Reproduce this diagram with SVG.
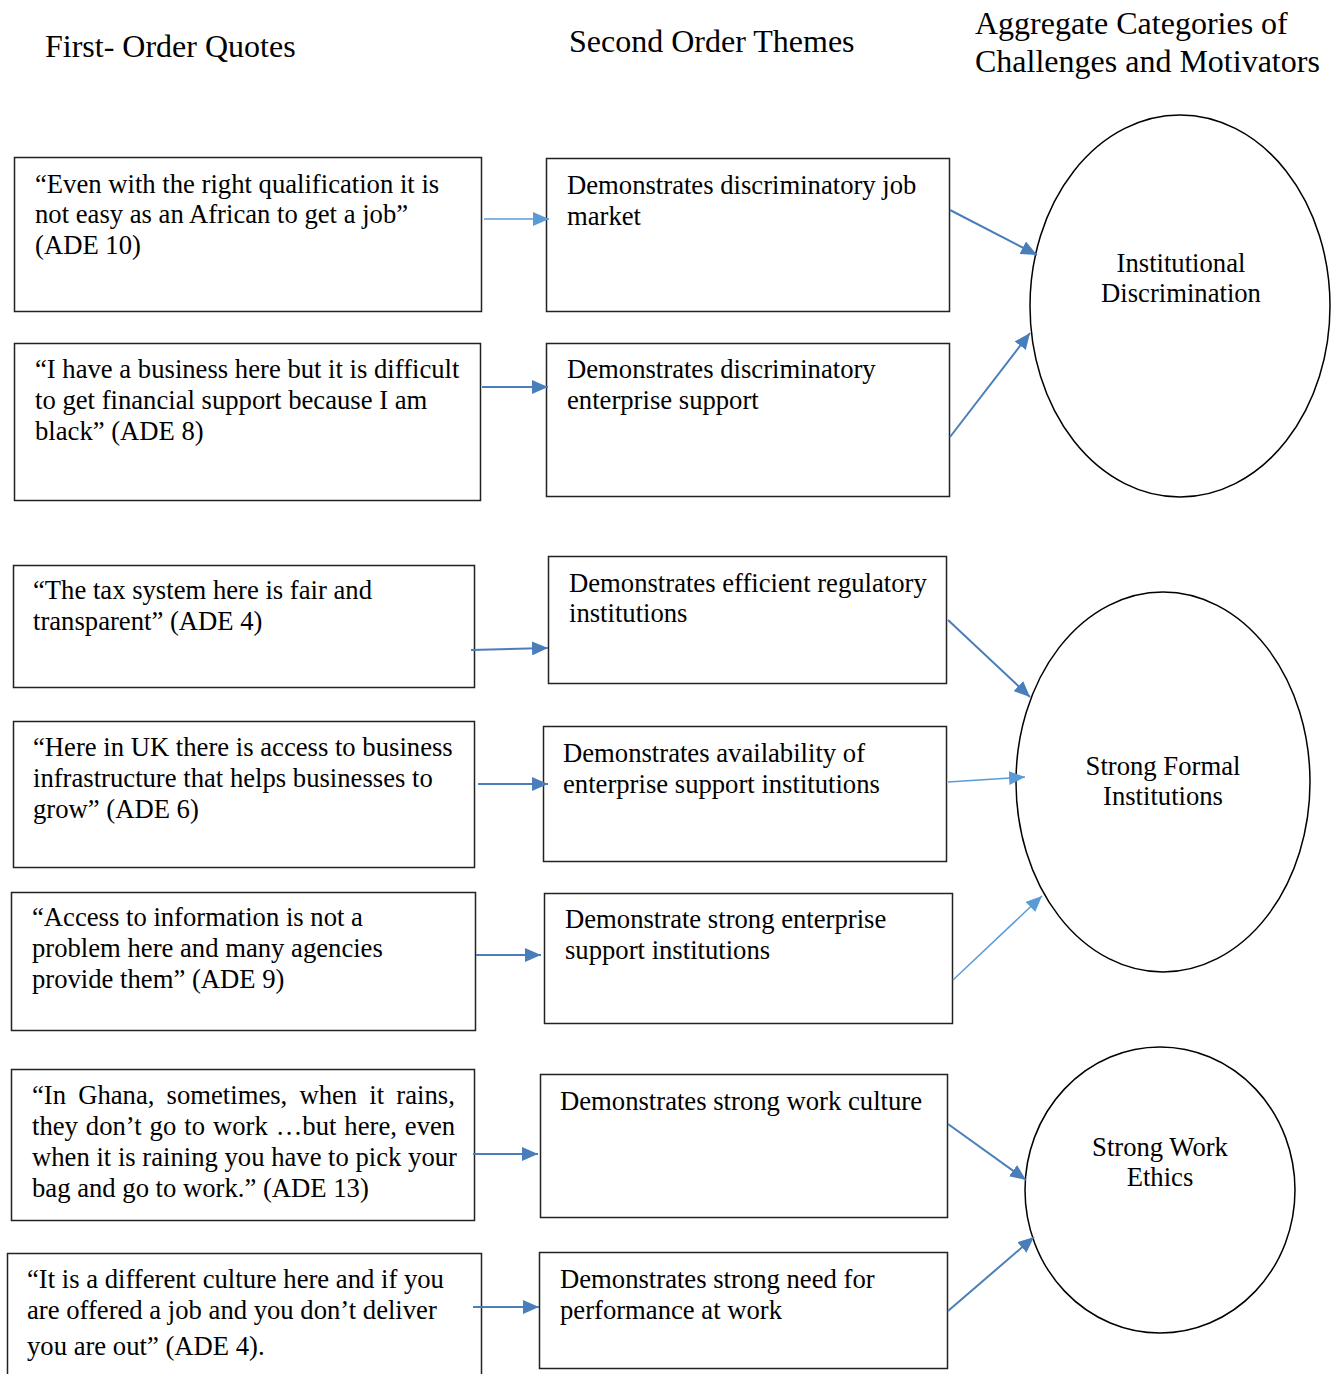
<svg xmlns="http://www.w3.org/2000/svg" width="1341" height="1374" viewBox="0 0 1341 1374" font-family="'Liberation Serif', 'Times New Roman', Times, serif">
<style>
.h{font-size:32px}
.t{font-size:26.67px}
.c{text-anchor:middle}
rect{fill:#fff;stroke:#222;stroke-width:1.5}
ellipse{fill:#fff;stroke:#000;stroke-width:1.5}
.d{stroke:#4a7ebb;stroke-width:2;fill:none;marker-end:url(#ad)}
.l{stroke:#5b9bd5;stroke-width:1.5;fill:none;marker-end:url(#al)}
</style>
<defs>
<marker id="ad" markerUnits="userSpaceOnUse" markerWidth="17" markerHeight="14" refX="16" refY="7" orient="auto"><path d="M0,0 L16,7 L0,14 z" fill="#4a7ebb"/></marker>
<marker id="al" markerUnits="userSpaceOnUse" markerWidth="17" markerHeight="14" refX="16" refY="7" orient="auto"><path d="M0,0 L16,7 L0,14 z" fill="#5b9bd5"/></marker>
</defs>
<rect x="0" y="0" width="1341" height="1374" style="stroke:none"/>
<g id="headers">
<text class="h" x="45" y="57">First- Order Quotes</text>
<text class="h" x="569" y="52">Second Order Themes</text>
<text class="h" x="975" y="34">Aggregate Categories of</text>
<text class="h" x="975" y="72">Challenges and Motivators</text>
</g>
<g id="q1"><rect x="14.5" y="157.5" width="467" height="154"/>
<text class="t" x="35" y="193">“Even with the right qualification it is</text>
<text class="t" x="35" y="223">not easy as an African to get a job”</text>
<text class="t" x="35" y="254">(ADE 10)</text></g>
<g id="q2"><rect x="14.5" y="343.5" width="466" height="157"/>
<text class="t" x="35" y="378">“I have a business here but it is difficult</text>
<text class="t" x="35" y="409">to get financial support because I am</text>
<text class="t" x="35" y="440">black” (ADE 8)</text></g>
<g id="q3"><rect x="13.5" y="565.5" width="461" height="122"/>
<text class="t" x="33" y="599">“The tax system here is fair and</text>
<text class="t" x="33" y="630">transparent” (ADE 4)</text></g>
<g id="q4"><rect x="13.5" y="721.5" width="461" height="146"/>
<text class="t" x="33" y="756">“Here in UK there is access to business</text>
<text class="t" x="33" y="787">infrastructure that helps businesses to</text>
<text class="t" x="33" y="818">grow” (ADE 6)</text></g>
<g id="q5"><rect x="11.5" y="892.5" width="464" height="138"/>
<text class="t" x="32" y="926">“Access to information is not a</text>
<text class="t" x="32" y="957">problem here and many agencies</text>
<text class="t" x="32" y="988">provide them” (ADE 9)</text></g>
<g id="q6"><rect x="11.5" y="1069.5" width="463" height="151"/>
<text class="t" x="32" y="1104" style="word-spacing:5.5px">“In Ghana, sometimes, when it rains,</text>
<text class="t" x="32" y="1135" style="word-spacing:1.3px">they don’t go to work …but here, even</text>
<text class="t" x="32" y="1166">when it is raining you have to pick your</text>
<text class="t" x="32" y="1197">bag and go to work.” (ADE 13)</text></g>
<g id="q7"><rect x="7.5" y="1253.5" width="474" height="140"/>
<text class="t" x="27" y="1288">“It is a different culture here and if you</text>
<text class="t" x="27" y="1319">are offered a job and you don’t deliver</text>
<text class="t" x="27" y="1355">you are out” (ADE 4).</text></g>
<g id="s1"><rect x="546.5" y="158.5" width="403" height="153"/>
<text class="t" x="567" y="194">Demonstrates discriminatory job</text>
<text class="t" x="567" y="225">market</text></g>
<g id="s2"><rect x="546.5" y="343.5" width="403" height="153"/>
<text class="t" x="567" y="378">Demonstrates discriminatory</text>
<text class="t" x="567" y="409">enterprise support</text></g>
<g id="s3"><rect x="548.5" y="556.5" width="398" height="127"/>
<text class="t" x="569" y="592">Demonstrates efficient regulatory</text>
<text class="t" x="569" y="622">institutions</text></g>
<g id="s4"><rect x="543.5" y="726.5" width="403" height="135"/>
<text class="t" x="563" y="762">Demonstrates availability of</text>
<text class="t" x="563" y="793">enterprise support institutions</text></g>
<g id="s5"><rect x="544.5" y="893.5" width="408" height="130"/>
<text class="t" x="565" y="928">Demonstrate strong enterprise</text>
<text class="t" x="565" y="959">support institutions</text></g>
<g id="s6"><rect x="540.5" y="1074.5" width="407" height="143"/>
<text class="t" x="560" y="1110">Demonstrates strong work culture</text></g>
<g id="s7"><rect x="539.5" y="1252.5" width="408" height="116"/>
<text class="t" x="560" y="1288">Demonstrates strong need for</text>
<text class="t" x="560" y="1319">performance at work</text></g>
<g id="a1"><ellipse cx="1180" cy="306" rx="150" ry="191"/>
<text class="t c" x="1181" y="272">Institutional</text>
<text class="t c" x="1181" y="302">Discrimination</text></g>
<g id="a2"><ellipse cx="1163" cy="782" rx="147" ry="190"/>
<text class="t c" x="1163" y="775">Strong Formal</text>
<text class="t c" x="1163" y="805">Institutions</text></g>
<g id="a3"><ellipse cx="1160" cy="1190" rx="135" ry="143"/>
<text class="t c" x="1160" y="1156">Strong Work</text>
<text class="t c" x="1160" y="1186">Ethics</text></g>
<g id="connectors">
<line class="l" x1="484" y1="219" x2="549" y2="219"/>
<line class="d" x1="482" y1="387" x2="548" y2="387"/>
<line class="d" x1="471" y1="650" x2="548" y2="648"/>
<line class="d" x1="478" y1="784" x2="548" y2="784"/>
<line class="d" x1="476" y1="955" x2="541" y2="955"/>
<line class="d" x1="473" y1="1154" x2="538" y2="1154"/>
<line class="d" x1="473" y1="1307" x2="539" y2="1307"/>
<line class="d" x1="950" y1="210" x2="1037" y2="255"/>
<line class="d" x1="950" y1="437" x2="1030" y2="333"/>
<line class="d" x1="948" y1="620" x2="1030" y2="697"/>
<line class="l" x1="948" y1="782" x2="1025" y2="777"/>
<line class="l" x1="953" y1="980" x2="1042" y2="896"/>
<line class="d" x1="948" y1="1124" x2="1026" y2="1180"/>
<line class="d" x1="948" y1="1311" x2="1034" y2="1237"/>
</g>
</svg>
